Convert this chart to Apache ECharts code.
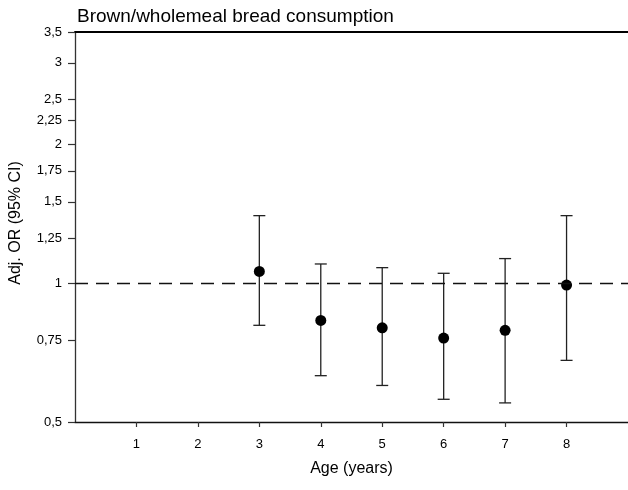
<!DOCTYPE html>
<html>
<head>
<meta charset="utf-8">
<script src="https://cdn.jsdelivr.net/npm/echarts@6/dist/echarts.min.js"></script>
<style>
  html, body { margin: 0; padding: 0; background: #fff; }
  #chart { width: 628px; height: 490px; }
</style>
</head>
<body>
<div id="chart"></div>
<script>
// Age (years) and adjusted odds ratios with 95% confidence intervals
const ages = [3, 4, 5, 6, 7, 8];
const oddsRatio = [1.06, 0.83, 0.80, 0.76, 0.79, 0.99];
const ciLower = [0.81, 0.63, 0.60, 0.56, 0.55, 0.68];
const ciUpper = [1.40, 1.10, 1.08, 1.05, 1.13, 1.40];
const xTicks = [1, 2, 3, 4, 5, 6, 7, 8];
const yTicks = [0.5, 0.75, 1, 1.25, 1.5, 1.75, 2, 2.25, 2.5, 3, 3.5];
const referenceOR = 1;

const font = 'Liberation Sans, Arial, sans-serif';
const chart = echarts.init(document.getElementById('chart'), null, { renderer: 'canvas' });

const points = ages.map((a, i) => [a, oddsRatio[i]]);
const intervals = ages.map((a, i) => [a, ciLower[i], ciUpper[i]]);

chart.setOption({
  animation: false,
  backgroundColor: '#fff',
  title: {
    text: 'Brown/wholemeal bread consumption',
    left: 72,
    top: 2,
    textStyle: { fontFamily: font, fontSize: 19, fontWeight: 'normal', color: '#000' }
  },
  grid: { left: 74, right: -5, top: 32, height: 390 },
  xAxis: [{
    type: 'value',
    min: 0,
    max: 9,
    name: 'Age (years)',
    nameLocation: 'middle',
    nameGap: 39,
    nameTextStyle: { fontFamily: font, fontSize: 16, color: '#000' },
    axisLine: { lineStyle: { color: '#111', width: 1.3 } },
    axisTick: { show: true, length: 5, customValues: xTicks, lineStyle: { color: '#333', width: 1.2 } },
    axisLabel: { customValues: xTicks, margin: 16, fontFamily: font, fontSize: 13, color: '#000' },
    splitLine: { show: false }
  }, {
    type: 'value',
    position: 'top',
    min: 0,
    max: 9,
    axisLine: { show: true, lineStyle: { color: '#000', width: 2 } },
    axisTick: { show: false },
    axisLabel: { show: false },
    splitLine: { show: false }
  }],
  yAxis: {
    type: 'log',
    logBase: 10,
    min: 0.5,
    max: 3.5,
    name: 'Adj. OR (95% CI)',
    nameLocation: 'middle',
    nameGap: 51,
    nameTextStyle: { fontFamily: font, fontSize: 16, color: '#000', padding: [0, 0, 0, 8] },
    axisLine: { show: true, lineStyle: { color: '#333', width: 1.3 } },
    axisTick: { show: true, length: 7, customValues: yTicks, lineStyle: { color: '#333', width: 1.2 } },
    axisLabel: {
      customValues: yTicks,
      margin: 13,
      fontFamily: font,
      fontSize: 13,
      color: '#000',
      formatter: v => String(Math.round(v * 100) / 100).replace('.', ',')
    },
    splitLine: { show: false }
  },
  series: [{
    type: 'custom',
    data: intervals,
    z: 2,
    renderItem: (params, api) => {
      const x = api.value(0);
      const lo = api.coord([x, api.value(1)]);
      const hi = api.coord([x, api.value(2)]);
      const half = 6;
      const style = { stroke: '#222', lineWidth: 1.3 };
      return {
        type: 'group',
        children: [
          { type: 'line', shape: { x1: lo[0], y1: lo[1], x2: hi[0], y2: hi[1] }, style },
          { type: 'line', shape: { x1: lo[0] - half, y1: lo[1], x2: lo[0] + half, y2: lo[1] }, style },
          { type: 'line', shape: { x1: hi[0] - half, y1: hi[1], x2: hi[0] + half, y2: hi[1] }, style }
        ]
      };
    },
    silent: true
  }, {
    type: 'scatter',
    data: points,
    symbol: 'circle',
    symbolSize: 11,
    itemStyle: { color: '#000', opacity: 1 },
    z: 3,
    markLine: {
      silent: true,
      symbol: 'none',
      label: { show: false },
      lineStyle: { color: '#111', type: [13, 8], width: 1.3 },
      data: [{ yAxis: referenceOR }]
    }
  }]
});
</script>
</body>
</html>
